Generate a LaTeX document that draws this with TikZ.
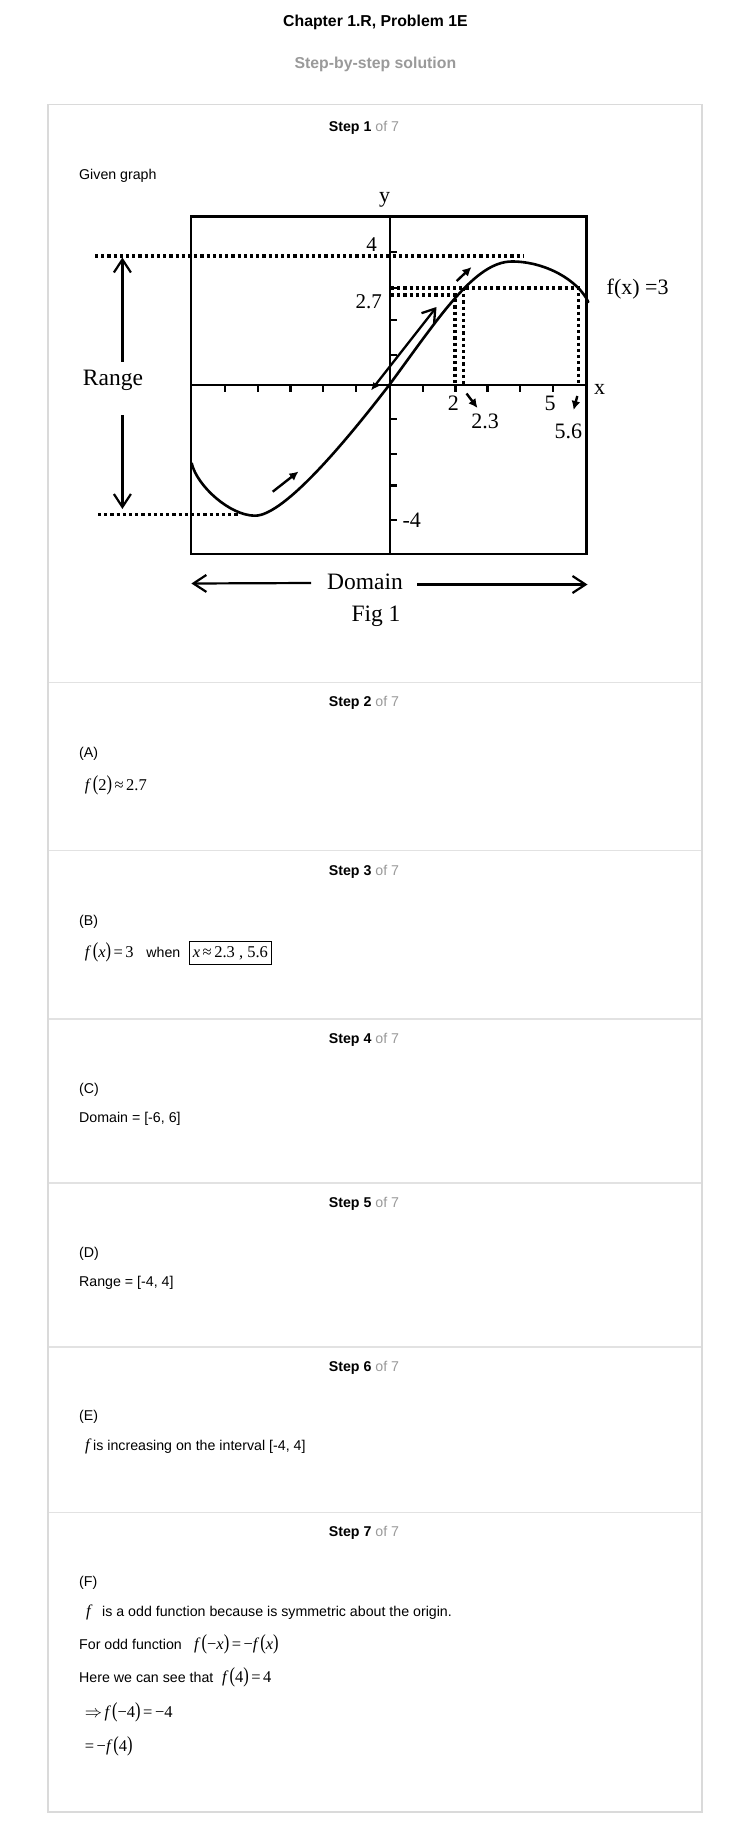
\documentclass[tikz,border=0pt]{standalone}
\usepackage{fontspec}
\setmainfont{Liberation Sans}
\newfontfamily\tms{Liberation Serif}
\usetikzlibrary{arrows.meta}
\definecolor{boxgray}{HTML}{DADADA}
\definecolor{sepgray}{HTML}{E2E2E2}
\definecolor{labgray}{HTML}{9A9A9A}
\newcommand\fsz[1]{\fontsize{#1}{#1}\selectfont}
\newcommand\myLP{\scalebox{1}[1.3]{(}}
\newcommand\myRP{\scalebox{1}[1.3]{)}}
\newcommand\mf{\textit{f}}
\newcommand\rsp{\hspace{2.5pt}}
\tikzset{
  body/.style={font=\fsz{14.2}, inner sep=0pt, anchor=west},
  mathtxt/.style={font=\tms\fsz{16.5}, inner sep=0pt, anchor=west},
  steplab/.style={font=\fsz{14.2}, inner sep=0pt},
  glab/.style={font=\tms\fsz{22}, inner sep=0pt},
  gbig/.style={font=\tms\fsz{23.5}, inner sep=0pt},
  frame/.style={line width=2.6pt, line join=miter},
  axis/.style={line width=2.4pt},
  tick/.style={line width=2.2pt},
  curve/.style={line width=2.6pt, line cap=round},
  dotline/.style={line width=3.4pt, dash pattern=on 3.2pt off 3pt},
  barb/.style={line width=2.2pt, -{Straight Barb[length=13pt,width=17pt]}},
  smallarr/.style={line width=2.4pt, -{Latex[length=9pt,width=9pt]}},
}
\begin{document}
\begin{tikzpicture}[x=1pt,y=-1pt]
\useasboundingbox (0,0) rectangle (752,1838);
\fill[white] (0,0) rectangle (752,1838);
% header
\node[font=\fsz{15.8}\bfseries, inner sep=0pt] (title) at (375.4,22.5) {Chapter 1.R, Problem 1E};
\node[font=\fsz{15.8}\bfseries, text=labgray, inner sep=0pt] (sub) at (375.4,64.7) {Step-by-step solution};
% outer box and separators
\draw[boxgray, line width=1.2pt] (48,104.5) rectangle (702,1812);
\foreach \yy in {682.7,850.3,1019,1183,1347,1512.5}
  \draw[sepgray, line width=1.2pt] (48.6,\yy) -- (701.4,\yy);
% step labels
\foreach \nn/\yy in {1/128.3,2/703.3,3/871.7,4/1040,5/1204,6/1368,7/1533.3}
  \node[steplab] (step\nn) at (364,\yy) {\textbf{Step \nn} \textcolor{labgray}{of 7}};
% step 1
\node[body] (given) at (79,176) {Given graph};
% graph frame and axes
\draw[frame] (191,216.7) rectangle (586.6,554);
\coordinate (yb) at (390,554); \coordinate (yt) at (390,216.7);
\coordinate (xl) at (191,385); \coordinate (xr) at (586.6,385);
\draw[axis] (yb) -- (yt);
\draw[axis] (xl) -- (xr);
% x ticks (below axis)
\foreach \xx in {225,258.3,290.5,323.3,355.8,423,455.5,487.5,520.3,553.3}
  \draw[tick] (\xx,385) -- (\xx,392);
% y ticks (right of axis)
\foreach \yy in {251.7,287.7,320,355,419.3,454,485.5,520}
  \draw[tick] (390,\yy) -- (397,\yy);
% dotted guide lines
\draw[dotline] (95,256) -- (523,256);
\draw[dotline] (98,514.3) -- (238,514.3);
\draw[dotline] (391,288) -- (578.3,288) -- (578.3,384);
\draw[dotline] (463.3,288) -- (463.3,384);
\draw[dotline] (391,295) -- (455,295) -- (455,384);
% the curve
\coordinate (c0) at (191.7,463.3);
\coordinate (cmin) at (255,515.7);
\coordinate (corg) at (390,384);
\coordinate (cpk) at (512,261.5);
\coordinate (cend) at (588.3,302);
\draw[curve] (c0) .. controls (197,486) and (230,515.7) .. (cmin)
  .. controls (285,515.7) and (350,436) .. (corg)
  .. controls (440,316) and (475,261.5) .. (cpk)
  .. controls (545,261.5) and (578,280) .. (cend);
% big double-headed arrow along the curve
\coordinate (ba) at (371,390.5); \coordinate (bb) at (436.5,307);
\draw[line width=2.3pt, {Latex[length=8pt,width=7pt]}-{Straight Barb[length=12pt,width=16pt]}] (ba) -- (bb);
% small arrows
\coordinate (s1a) at (456.7,281); \coordinate (s1b) at (471.5,267);
\draw[smallarr] (s1a) -- (s1b);
\coordinate (s2a) at (272.7,491.7); \coordinate (s2b) at (298.5,471.5);
\draw[smallarr] (s2a) -- (s2b);
\coordinate (s3a) at (466.5,393.5); \coordinate (s3b) at (477.5,408);
\draw[smallarr] (s3a) -- (s3b);
\coordinate (s4a) at (577.3,396); \coordinate (s4b) at (573.6,410);
\draw[smallarr] (s4a) -- (s4b);
% range arrows
\coordinate (r1a) at (122.4,361.7); \coordinate (r1b) at (122.4,257.5);
\draw[barb] (r1a) -- (r1b);
\coordinate (r2a) at (122.4,415); \coordinate (r2b) at (122.4,509);
\draw[barb] (r2a) -- (r2b);
% domain arrows
\coordinate (d1a) at (311,583); \coordinate (d1b) at (191.4,583.5);
\draw[barb] (d1a) -- (d1b);
\coordinate (d2a) at (417,584.5); \coordinate (d2b) at (587.5,584.5);
\draw[barb] (d2a) -- (d2b);
% graph labels
\node[glab] (ylab) at (384.5,199.5) {y};
\node[glab, font=\tms\fsz{21}] (l4) at (371.7,245) {4};
\node[glab, font=\tms\fsz{21}, anchor=east] (l27) at (382,301.7) {2.7};
\node[glab] (xlab) at (599.5,389) {x};
\node[glab] (l2) at (453.3,403.3) {2};
\node[glab] (l23) at (485,421.7) {2.3};
\node[glab] (l5) at (550,403.3) {5};
\node[glab] (l56) at (568.3,431.7) {5.6};
\node[glab, anchor=west] (fx3) at (606.5,289) {f(x) =3};
\node[glab] (lm4) at (411.7,520.7) {-4};
\node[gbig] (range) at (113,380) {Range};
\node[gbig] (domain) at (365,581.7) {Domain};
\node[gbig] (fig) at (376,616.7) {Fig 1};
% step 2
\node[body] (pA) at (79,754) {(A)};
\node[mathtxt] (eqA) at (84.7,785) {\mf\hspace{1.5pt}\myLP2\myRP\rsp≈\rsp2.7};
% step 3
\node[body] (pB) at (79,922.3) {(B)};
\node[mathtxt] (eqB) at (84.7,952.7) {\mf\hspace{1.5pt}\myLP\textit{x}\myRP\rsp=\rsp3};
\node[body] (when) at (146.2,952.7) {when};
\node[mathtxt, anchor=center, draw, line width=0.9pt, minimum width=81.5pt, minimum height=22.3pt] (boxB) at (230.4,952.8) {\textit{x}\rsp≈\rsp2.3 , 5.6};
% step 4
\node[body] (pC) at (79,1089.5) {(C)};
\node[body] (domC) at (79,1118.6) {Domain = [-6, 6]};
% step 5
\node[body] (pD) at (79,1253.5) {(D)};
\node[body] (ranD) at (79,1282.6) {Range = [-4, 4]};
% step 6
\node[body] (pE) at (79,1417.3) {(E)};
\node[mathtxt] (fE) at (85,1446.5) {\mf};
\node[body] (incE) at (93,1446.5) {is increasing on the interval [-4, 4]};
% step 7
\node[body] (pF) at (79,1583.3) {(F)};
\node[mathtxt] (fF) at (86,1612.7) {\mf};
\node[body] (oddF) at (102,1612.7) {is a odd function because is symmetric about the origin.};
\node[body] (forF) at (79,1644) {For odd function};
\node[mathtxt] (eqF1) at (194,1644) {\mf\hspace{1pt}\myLP−\textit{x}\myRP\rsp=\rsp−\mf\hspace{1pt}\myLP\textit{x}\myRP};
\node[body] (hereF) at (79,1677.7) {Here we can see that};
\node[mathtxt] (eqF2) at (222,1677.7) {\mf\hspace{1pt}\myLP4\myRP\rsp=\rsp4};
\node[mathtxt] (eqF3) at (84.7,1712) {$\Rightarrow$\rsp\mf\hspace{1pt}\myLP−4\myRP\rsp=\rsp−4};
\node[mathtxt] (eqF4) at (84.7,1746.7) {=\rsp−\mf\hspace{1pt}\myLP4\myRP};
\end{tikzpicture}
\end{document}
